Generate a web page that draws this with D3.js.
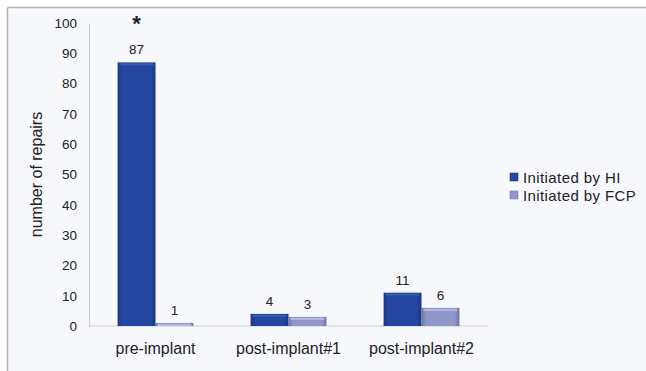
<!DOCTYPE html>
<html><head><meta charset="utf-8">
<script src="https://cdn.jsdelivr.net/npm/d3@7"></script>
<style>body{margin:0;background:#fff}svg{display:block}text{font-family:"Liberation Sans",Arial,sans-serif;fill:#222}</style>
</head><body>
<svg id="c" width="646" height="371"></svg>
<script>
const categories = ["pre-implant", "post-implant#1", "post-implant#2"];
const seriesNames = ["Initiated by HI", "Initiated by FCP"];
const hiValues = [87, 4, 11];
const fcpValues = [1, 3, 6];
const yTicks = [0, 10, 20, 30, 40, 50, 60, 70, 80, 90, 100];

const svg = d3.select("#c");
const W = 646, H = 371;
const m = {left: 89, right: 158, top: 23, bottom: 45};

// frame
svg.append("rect").attr("x", 8).attr("y", 8).attr("width", W - 8).attr("height", H - 8).attr("fill", "#f7f8fc");
svg.append("line").attr("x1", 7.5).attr("x2", W).attr("y1", 7.5).attr("y2", 7.5).attr("stroke", "#b4b4b4").attr("stroke-width", 1.5);
svg.append("line").attr("x1", 7.5).attr("x2", 7.5).attr("y1", 7.5).attr("y2", H).attr("stroke", "#b4b4b4").attr("stroke-width", 1.5);

const defs = svg.append("defs");
function grad(id, edge, mid) {
  const g = defs.append("linearGradient").attr("id", id).attr("x1", 0).attr("x2", 1).attr("y1", 0).attr("y2", 0);
  g.append("stop").attr("offset", "0%").attr("stop-color", edge);
  g.append("stop").attr("offset", "12%").attr("stop-color", mid);
  g.append("stop").attr("offset", "88%").attr("stop-color", mid);
  g.append("stop").attr("offset", "100%").attr("stop-color", edge);
}
grad("gHI", "#1b3682", "#2446a0");
grad("gFCP", "#6c71a8", "#9196c8");
const colors = ["#2446a0", "#9196c8"];
const fills = ["url(#gHI)", "url(#gFCP)"];
const tops = ["#3558b0", "#b5b9e0"];

const x0 = d3.scaleBand().domain(categories).range([m.left, W - m.right]).paddingInner(0.43).paddingOuter(0.215);
const x1 = d3.scaleBand().domain(seriesNames).range([0, x0.bandwidth()]);
const y = d3.scaleLinear().domain([0, 100]).range([H - m.bottom, m.top]);

// y axis
const ya = svg.append("g").attr("transform", `translate(${m.left},0)`)
  .call(d3.axisLeft(y).tickValues(yTicks).tickSize(0).tickPadding(12));
ya.select(".domain").attr("stroke", "#c8c8d0");
ya.selectAll("text").attr("font-size", 13.5).attr("fill", "#222").attr("font-family", "Liberation Sans, Arial, sans-serif");

// x axis
const xa = svg.append("g").attr("transform", `translate(0,${H - m.bottom})`)
  .call(d3.axisBottom(x0).tickSize(0).tickPadding(17));
xa.select(".domain").attr("stroke", "#c8c8d0").attr("d", `M${m.left},0H${W - m.right}`);
xa.selectAll("text").attr("font-size", 16).attr("fill", "#222").attr("font-family", "Liberation Sans, Arial, sans-serif");

const data = categories.map((c, i) => ({cat: c, vals: [hiValues[i], fcpValues[i]]}));
const groups = svg.append("g").selectAll("g").data(data).join("g")
  .attr("transform", d => `translate(${x0(d.cat)},0)`);
groups.selectAll("rect.bar").data(d => d.vals.map((v, k) => ({v, k})))
  .join("rect").attr("class", "bar")
  .attr("x", d => x1(seriesNames[d.k]))
  .attr("width", x1.bandwidth())
  .attr("y", d => y(d.v))
  .attr("height", d => y(0) - y(d.v))
  .attr("fill", d => fills[d.k]);
groups.selectAll("rect.top").data(d => d.vals.map((v, k) => ({v, k})))
  .join("rect").attr("class", "top")
  .attr("x", d => x1(seriesNames[d.k]) + 2)
  .attr("width", x1.bandwidth() - 4)
  .attr("y", d => y(d.v) + 1)
  .attr("height", d => Math.min(2, y(0) - y(d.v) - 1))
  .attr("fill", d => tops[d.k]);
groups.selectAll("text.val").data(d => d.vals.map((v, k) => ({v, k})))
  .join("text").attr("class", "val")
  .attr("x", d => x1(seriesNames[d.k]) + x1.bandwidth() / 2)
  .attr("y", d => y(d.v) - 8)
  .attr("text-anchor", "middle").attr("font-size", 13.5)
  .text(d => d.v);

// asterisk
svg.append("text").attr("x", x0(categories[0]) + x1(seriesNames[0]) + x1.bandwidth() / 2)
  .attr("y", 31).attr("text-anchor", "middle").attr("font-size", 22).attr("font-weight", "bold").text("*");

// y title
svg.append("text").attr("transform", `translate(42,${(m.top + H - m.bottom) / 2}) rotate(-90)`)
  .attr("text-anchor", "middle").attr("font-size", 16).text("number of repairs");

// legend
const lg = svg.append("g").attr("transform", "translate(510,173)");
seriesNames.forEach((s, i) => {
  lg.append("rect").attr("x", 0).attr("y", i * 18).attr("width", 8).attr("height", 8).attr("fill", colors[i])
    .attr("stroke", i ? "#6c71a8" : "#1b3682").attr("stroke-width", 0.5);
  lg.append("text").attr("x", 13).attr("y", i * 18 + 9.5).attr("font-size", 15).attr("letter-spacing", 0.4).text(s);
});
</script>
</body></html>
